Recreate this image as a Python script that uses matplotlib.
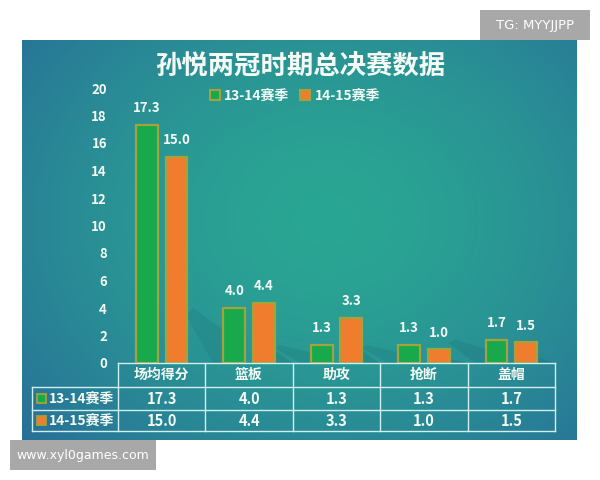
import numpy as np
import matplotlib.pyplot as plt
from matplotlib.patches import Rectangle
from matplotlib.colors import to_rgb

plt.rcParams['font.family'] = ['Noto Sans CJK SC', 'DejaVu Sans']

# data
categories = ['场均得分', '篮板', '助攻', '抢断', '盖帽']
seasons = ['13-14赛季', '14-15赛季']
s1314 = [17.3, 4.0, 1.3, 1.3, 1.7]
s1415 = [15.0, 4.4, 3.3, 1.0, 1.5]
title = '孙悦两冠时期总决赛数据'

green = '#17a94c'
orange = '#f07c2e'
edge = '#a4a23c'
txt = '#f4fbf6'

W, H = 600, 480
fig = plt.figure(figsize=(W / 100, H / 100), dpi=100)
fig.patch.set_facecolor('white')

def px(x0, y0, x1, y1):
    return [x0 / W, 1 - y1 / H, (x1 - x0) / W, (y1 - y0) / H]

# gradient panel
bg = fig.add_axes(px(22, 40, 577, 440))
bg.set_axis_off()
ny, nx = 200, 280
yy, xx = np.mgrid[0:1:ny * 1j, 0:1:nx * 1j]
d = np.sqrt(((xx - 0.55) / 0.75) ** 2 + ((yy - 0.45) / 0.85) ** 2)
d = np.clip(d, 0, 1) ** 1.6
c0 = np.array(to_rgb('#2aa693'))
c1 = np.array(to_rgb('#286d98'))
img = c0[None, None, :] * (1 - d[..., None]) + c1[None, None, :] * d[..., None]
bg.imshow(img, aspect='auto', extent=[0, 1, 0, 1], origin='upper')
bg.set_xlim(0, 1)
bg.set_ylim(0, 1)

# main bar axes
ax = fig.add_axes(px(118, 88, 555, 363))
ax.patch.set_alpha(0)
x = np.arange(len(categories))
off, bw = 0.17, 0.25
b1 = ax.bar(x - off, s1314, bw, color=green, edgecolor=edge, linewidth=1.6, zorder=3)
b2 = ax.bar(x + off, s1415, bw, color=orange, edgecolor=edge, linewidth=1.6, zorder=3)

# soft shadows behind each group (skip the first, it would leave the plot)
for xi, v1, v2 in zip(x[1:], s1314[1:], s1415[1:]):
    xl = xi - off - bw / 2
    xr = xi + off + bw / 2
    h = min(v1, 4.5)
    ax.add_patch(plt.Polygon([[xl, 0], [xl, 0.6 * h], [xl - 0.35, h],
                              [xl - 0.42, 0.85 * h], [xl - 0.12, 0]],
                             closed=True, color='#155e5c', alpha=0.16, zorder=2, lw=0))
    h2 = min(v2, 3.0)
    ax.add_patch(plt.Polygon([[xr, 0], [xr, 0.3 * h2], [xr + 0.2, 0]],
                             closed=True, color='#155e5c', alpha=0.2, zorder=2, lw=0))

for bars, vals in ((b1, s1314), (b2, s1415)):
    for b, v in zip(bars, vals):
        ax.annotate(f'{v:.1f}', (b.get_x() + b.get_width() / 2, v),
                    xytext=(0, 7), textcoords='offset points', ha='center', va='bottom',
                    color=txt, fontsize=9.5, fontweight='bold')
ax.set_xlim(-0.5, len(categories) - 0.5)
ax.set_ylim(0, 20)
ax.set_yticks(range(0, 21, 2))
ax.set_xticks([])
ax.tick_params(axis='y', length=0, pad=8, labelcolor=txt, labelsize=9.5)
for lbl in ax.get_yticklabels():
    lbl.set_fontweight('bold')
for s in ax.spines.values():
    s.set_visible(False)

leg_handles = [Rectangle((0, 0), 1, 1, fc=green, ec=edge, lw=1.5),
               Rectangle((0, 0), 1, 1, fc=orange, ec=edge, lw=1.5)]
leg = fig.legend(leg_handles, seasons, loc='center', bbox_to_anchor=(295 / W, 1 - 96 / H),
                 ncol=2, frameon=False, handlelength=0.7, handleheight=0.7,
                 handletextpad=0.3, columnspacing=0.8, fontsize=10)
for t in leg.get_texts():
    t.set_color(txt)
    t.set_fontweight('bold')

fig.text(300 / W, 1 - 67 / H, title, ha='center', va='center', fontsize=19,
         color=txt, fontweight='bold')

# data table
ov = fig.add_axes([0, 0, 1, 1])
ov.set_xlim(0, W)
ov.set_ylim(H, 0)
ov.set_axis_off()
ov.patch.set_alpha(0)
lc = '#cfeff0'
col0, col_end = 118, 555
cw = (col_end - col0) / len(categories)
rows = [363, 387, 410, 431]
lab0 = 32
ov.plot([col0, col_end], [rows[0], rows[0]], color=lc, lw=1)
for r in rows[1:]:
    ov.plot([lab0, col_end], [r, r], color=lc, lw=1)
ov.plot([lab0, lab0], [rows[1], rows[3]], color=lc, lw=1)
for i in range(len(categories) + 1):
    ov.plot([col0 + i * cw] * 2, [rows[0], rows[3]], color=lc, lw=1)
for i, c in enumerate(categories):
    cx = col0 + (i + 0.5) * cw
    ov.text(cx, (rows[0] + rows[1]) / 2, c, ha='center', va='center',
            color=txt, fontsize=10, fontweight='bold')
    for j, vals in enumerate((s1314, s1415)):
        ov.text(cx, (rows[j + 1] + rows[j + 2]) / 2, f'{vals[i]:.1f}', ha='center',
                va='center', color=txt, fontsize=10.5, fontweight='bold')
for j, (name, col) in enumerate(zip(seasons, (green, orange))):
    cy = (rows[j + 1] + rows[j + 2]) / 2
    ov.add_patch(Rectangle((37, cy - 4.5), 9, 9, fc=col, ec=edge, lw=1.3))
    ov.text(49, cy, name, ha='left', va='center', color=txt, fontsize=10, fontweight='bold')

# watermarks
ov.add_patch(Rectangle((480, 10), 110, 30, fc='#a8a8a8', ec='none'))
ov.text(535, 25, 'TG: MYYJJPP', ha='center', va='center', color='white', fontsize=9.5,
        family='DejaVu Sans')
ov.add_patch(Rectangle((10, 440), 146, 30, fc='#a8a8a8', ec='none'))
ov.text(83, 455, 'www.xyl0games.com', ha='center', va='center', color='white', fontsize=9,
        family='DejaVu Sans')

fig.savefig('out.png', dpi=100)
